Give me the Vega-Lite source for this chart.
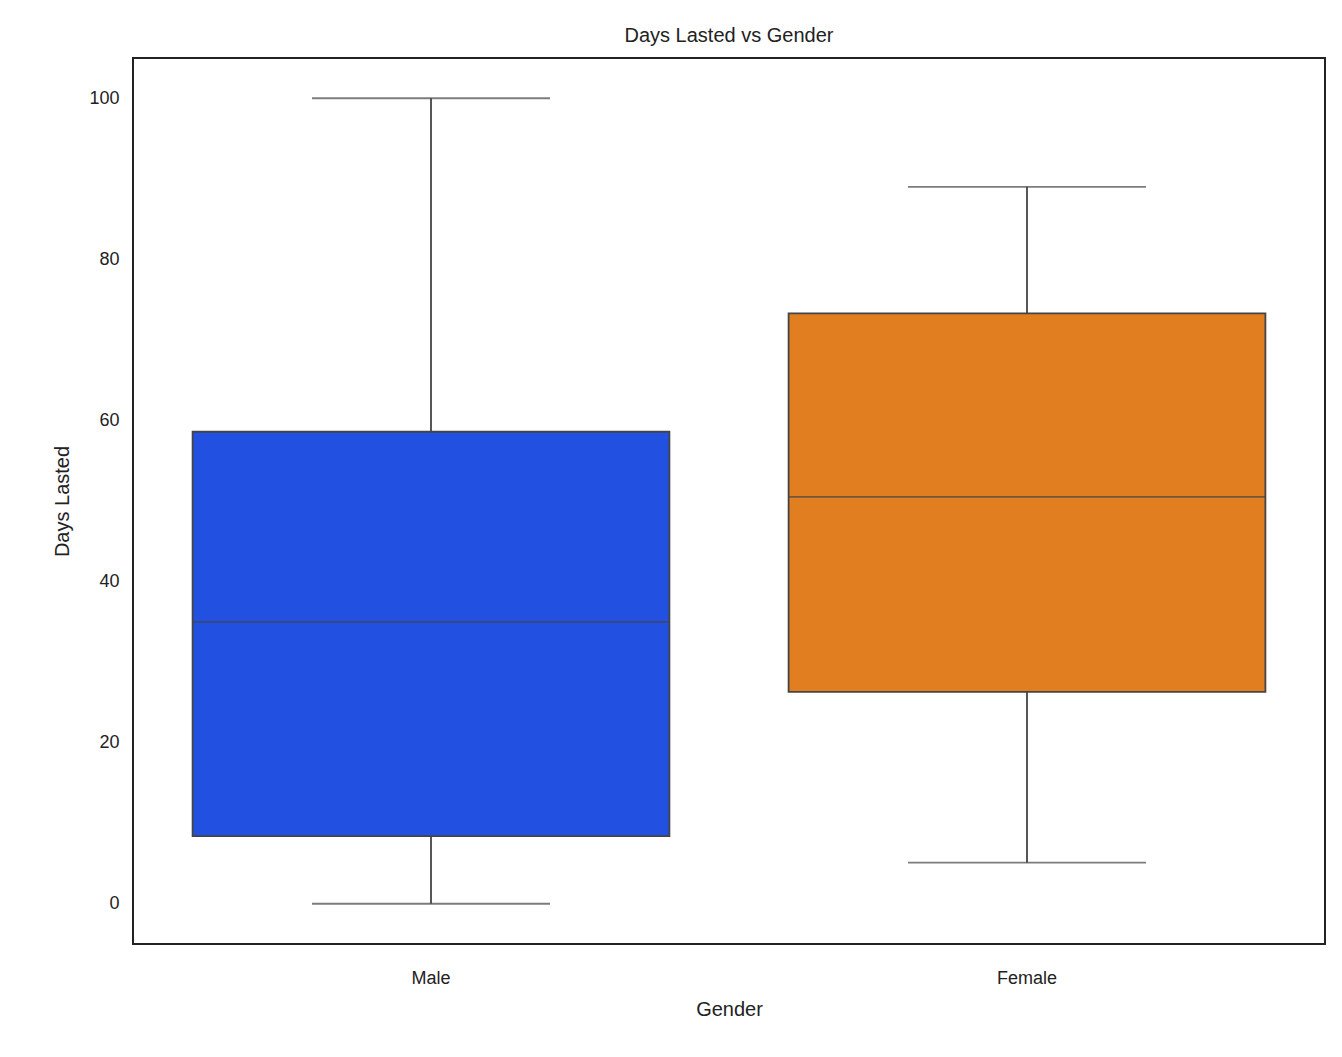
{
  "$schema": "https://vega.github.io/schema/vega-lite/v6.json",
  "width": 1192,
  "height": 886,
  "autosize": "none",
  "padding": {"left": 133, "top": 58, "right": 17, "bottom": 113},
  "background": "white",
  "config": {
    "font": "Liberation Sans",
    "view": {"stroke": "#222222", "strokeWidth": 2},
    "axis": {"grid": false, "ticks": false, "domain": false, "labelFontSize": 18, "titleFontSize": 20, "labelColor": "#222", "titleColor": "#222", "titleFontWeight": "normal"}
  },
  "title": {"text": "Days Lasted vs Gender", "fontSize": 20, "fontWeight": "normal", "color": "#222", "offset": 12},
  "data": {
    "values": [
      {"gender": "Male", "min": 0, "q1": 8.4, "median": 35.0, "q3": 58.6, "max": 100},
      {"gender": "Female", "min": 5.1, "q1": 26.3, "median": 50.5, "q3": 73.3, "max": 89.0}
    ]
  },
  "encoding": {
    "x": {"field": "gender", "type": "nominal", "sort": ["Male", "Female"], "title": "Gender",
      "scale": {"paddingInner": 0.2, "paddingOuter": 0.1},
      "axis": {"labelAngle": 0, "labelPadding": 25, "titlePadding": 12}},
    "y": {"type": "quantitative", "title": "Days Lasted",
      "scale": {"domain": [-5, 105], "nice": false, "zero": false},
      "axis": {"values": [0, 20, 40, 60, 80, 100], "labelPadding": 14, "titlePadding": 16}}
  },
  "layer": [
    {"mark": {"type": "rule", "color": "#444", "strokeWidth": 1.8},
     "encoding": {"y": {"field": "min", "type": "quantitative"}, "y2": {"field": "q1"}}},
    {"mark": {"type": "rule", "color": "#444", "strokeWidth": 1.8},
     "encoding": {"y": {"field": "q3", "type": "quantitative"}, "y2": {"field": "max"}}},
    {"mark": {"type": "bar", "stroke": "#444", "strokeWidth": 1.8},
     "encoding": {"y": {"field": "q1", "type": "quantitative"}, "y2": {"field": "q3"},
       "color": {"field": "gender", "type": "nominal", "legend": null,
         "scale": {"domain": ["Male", "Female"], "range": ["#2251e2", "#e07e20"]}}}},
    {"mark": {"type": "tick", "color": "#444", "size": 476, "thickness": 1.8, "orient": "horizontal"},
     "encoding": {"y": {"field": "median", "type": "quantitative"}}},
    {"mark": {"type": "tick", "color": "#444", "size": 238, "thickness": 1.8, "orient": "horizontal"},
     "encoding": {"y": {"field": "min", "type": "quantitative"}}},
    {"mark": {"type": "tick", "color": "#444", "size": 238, "thickness": 1.8, "orient": "horizontal"},
     "encoding": {"y": {"field": "max", "type": "quantitative"}}}
  ]
}
